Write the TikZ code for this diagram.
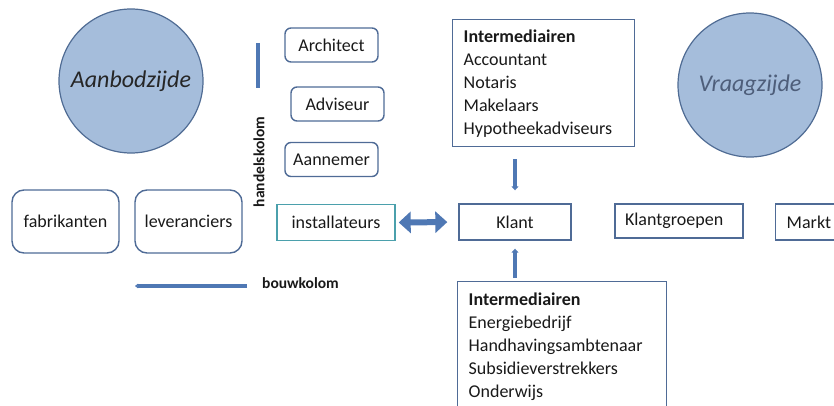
\documentclass[tikz,border=0pt]{standalone}
\usepackage{fontspec}
\setmainfont{Carlito}
\usetikzlibrary{arrows.meta}
\definecolor{boxline}{RGB}{79,107,150}
\definecolor{circfill}{RGB}{165,189,219}
\definecolor{circline}{RGB}{80,108,148}
\definecolor{tealline}{RGB}{75,160,172}
\definecolor{arrowblue}{RGB}{79,120,180}
\definecolor{vraagtext}{RGB}{78,94,122}
\begin{document}
\begin{tikzpicture}[x=1pt,y=-1pt,
  every node/.style={font=\fontsize{18}{23}\selectfont, text=black!90},
  side/.style={circle, draw=circline, line width=1.2pt, fill=circfill,
    minimum size=144pt, inner sep=0pt, font=\fontsize{24}{28}\selectfont\itshape},
  roundbox/.style={draw=boxline, line width=1.4pt, rounded corners=6pt,
    inner sep=0pt, minimum height=34pt},
  bigbox/.style={draw=boxline, line width=1.4pt, rounded corners=12pt,
    inner sep=0pt, minimum width=107pt, minimum height=63pt},
  plainbox/.style={draw=boxline, line width=1.4pt, inner sep=0pt, minimum height=36pt},
  listbox/.style={draw=boxline, line width=1.4pt, anchor=north west, align=left,
    inner xsep=11pt, inner ysep=0pt},
  thinarrow/.style={draw=arrowblue, line width=3.8pt,
    -{Triangle[length=4pt,width=7pt]}},
  colline/.style={draw=arrowblue, line width=3.2pt},
  colfont/.style={font=\fontsize{15.5}{18}\selectfont\bfseries}
]
\clip (0,0) rectangle (834,406);

% supply and demand sides
\node[side, text=black!85] (aanbod) at (131,81) {Aanbodzijde};
\node[side, text=vraagtext] (vraag) at (750,85) {Vraagzijde};

% building professionals
\node[roundbox, minimum width=93pt] (architect) at (331.5,45) {Architect};
\node[roundbox, minimum width=93pt] (adviseur) at (337.5,104) {Adviseur};
\node[roundbox, minimum width=93pt] (aannemer) at (331.5,159.5) {Aannemer};

% supply chain
\node[bigbox] (fabrikanten) at (65.5,221.5) {fabrikanten};
\node[bigbox] (leveranciers) at (188.5,221.5) {leveranciers};
\node[plainbox, draw=tealline, minimum width=118pt] (installateurs) at (336,222.5) {installateurs};

% client side
\node[plainbox, minimum width=112pt] (klant) at (515,222) {Klant};
\node[plainbox, minimum width=128pt, minimum height=34pt, text width=108pt,
  align=left, inner xsep=10pt] (klantgroepen) at (679,221) {Klantgroepen};
\node[plainbox, anchor=west, text width=58pt, align=left, inner xsep=11pt] (markt) at (775,222) {Markt};

% intermediaries
\node[listbox, text width=160pt, minimum height=127pt] (intertop) at (452,19)
  {\textbf{Intermediairen}\\Accountant\\Notaris\\Makelaars\\Hypotheekadviseurs};
\node[listbox, text width=187pt, minimum height=130pt] (interbot) at (457,281)
  {\textbf{Intermediairen}\\Energiebedrijf\\Handhavingsambtenaar\\Subsidieverstrekkers\\Onderwijs};

% connectors
\draw[draw=arrowblue, line width=6pt,
  {Triangle[length=12pt,width=21pt]}-{Triangle[length=12pt,width=21pt]},
  shorten <=3pt, shorten >=11pt] (installateurs.east) -- (klant.west);
\draw[thinarrow, shorten <=12pt, shorten >=13pt] (intertop.south -| klant.north) -- (klant.north);
\draw[thinarrow, shorten <=3pt, shorten >=8pt] (interbot.north -| klant.south) -- (klant.south);

% columns of the building sector
\coordinate (hk top) at (258,43);
\coordinate (hk bottom) at (258,88);
\draw[colline] (hk top) -- (hk bottom);
\node[colfont, rotate=90, inner sep=0pt] (handelskolom) at (259,162) {handelskolom};

\coordinate (bk right) at (247,286);
\coordinate (bk left) at (135,286);
\draw[colline, -{Triangle[length=3pt,width=4.5pt]}] (bk right) -- (bk left);
\node[colfont, anchor=west, inner sep=0pt] (bouwkolom) at (262,283) {bouwkolom};
\end{tikzpicture}
\end{document}
